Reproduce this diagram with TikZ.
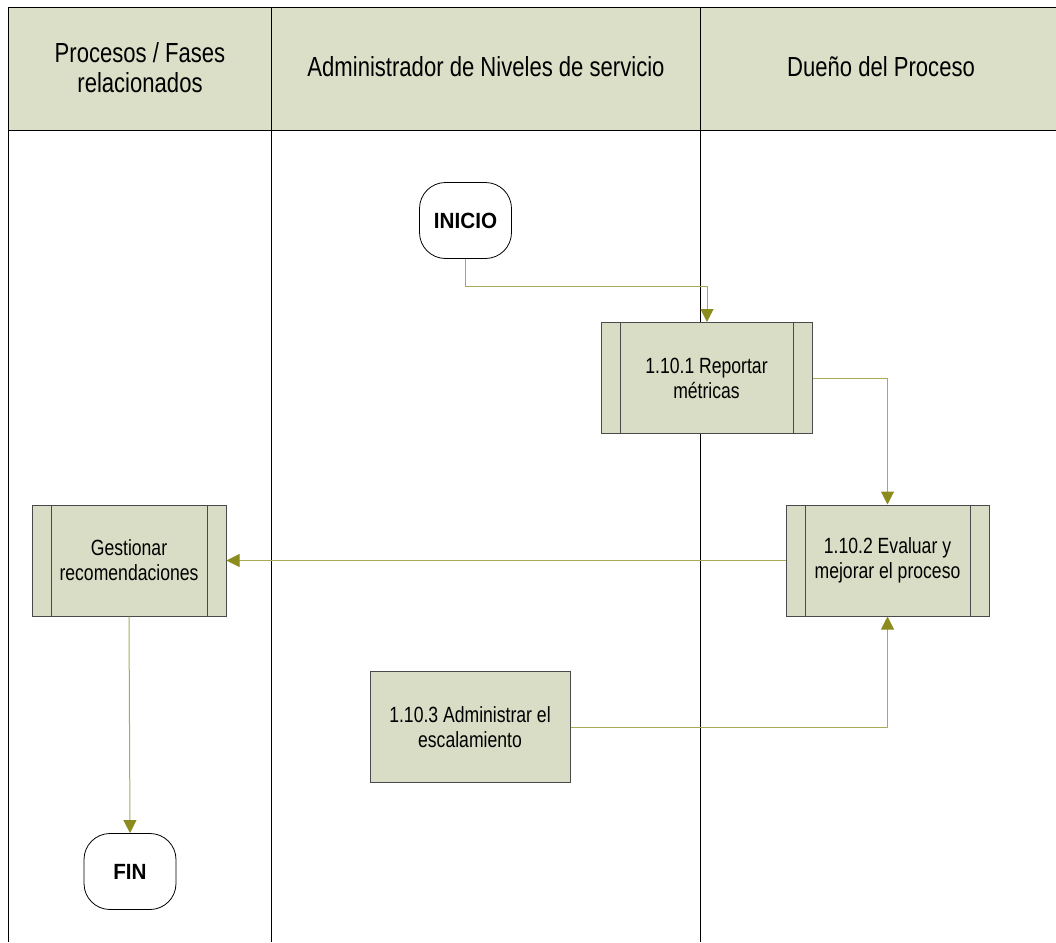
\documentclass[tikz,border=0pt]{standalone}
\usepackage{fontspec}
\setmainfont{Liberation Sans}[FakeStretch=0.8]
\newfontfamily\termfont{Liberation Sans Bold}[FakeStretch=0.94]
\usetikzlibrary{arrows.meta}
\definecolor{lanefill}{HTML}{DCDFC8}
\definecolor{boxfill}{HTML}{DADDC5}
\definecolor{flow}{HTML}{8C8C1E}
\definecolor{boxline}{HTML}{4A4A4A}
\tikzset{
  lane/.style={draw=black, line width=1pt},
  headtext/.style={align=center, font=\fontsize{27.6}{30}\selectfont},
  proc/.style={draw=boxline, fill=boxfill, line width=1pt, minimum width=#1, minimum height=111pt,
    align=center, font=\fontsize{22}{25}\selectfont, inner sep=0pt},
  subproc/.style={proc=#1, path picture={
      \draw[boxline, line width=1pt] ([xshift=19pt]path picture bounding box.north west) -- ([xshift=19pt]path picture bounding box.south west);
      \draw[boxline, line width=1pt] ([xshift=-19pt]path picture bounding box.north east) -- ([xshift=-19pt]path picture bounding box.south east);}},
  term/.style={draw=black, fill=white, line width=0.8pt, rounded corners=26pt, minimum width=92pt, minimum height=76pt,
    font=\termfont\fontsize{22}{24}\selectfont},
  flowline/.style={draw=flow!75, line width=1pt, -{Triangle[length=13pt,width=13pt,fill=flow,color=flow]}},
}
\begin{document}
\begin{tikzpicture}[x=1pt,y=-1pt]
\useasboundingbox (0,0) rectangle (1056,942);
% header band
\fill[lanefill] (8,8) rectangle (1056,130);
\draw[lane] (8,942) -- (8,8) -- (1056,8);
\draw[lane] (8,130) -- (1056,130);
\draw[lane] (271,8) -- (271,942);
\draw[lane] (700,8) -- (700,942);
\node[headtext] (h1) at (140,68) {Procesos / Fases\\relacionados};
\node[headtext] (h2) at (486,67) {Administrador de Niveles de servicio};
\node[headtext] (h3) at (881,67) {Dueño del Proceso};
% activities
\node[term] (ini) at (465.5,220.5) {INICIO};
\node[subproc=211pt] (a1) at (706.5,378) {1.10.1 Reportar\\métricas};
\node[subproc=203pt] (a2) at (887.5,560.5) {1.10.2 Evaluar y\\mejorar el proceso};
\node[subproc=194pt] (g) at (129,560.5) {Gestionar\\recomendaciones};
\node[proc=200pt] (a3) at (470,727) {1.10.3 Administrar el\\escalamiento};
\node[term] (fin) at (130,871.5) {FIN};
% connectors
\draw[flowline] (ini.south) |- (707,286) -- (707,322);
\draw[flowline] (a1.east) -| (a2.north);
\draw[flowline] (a2.west) -- (g.east);
\draw[flowline] (a3.east) -| (a2.south);
\draw[flowline] (g.south) -- (fin.north);
\end{tikzpicture}
\end{document}
